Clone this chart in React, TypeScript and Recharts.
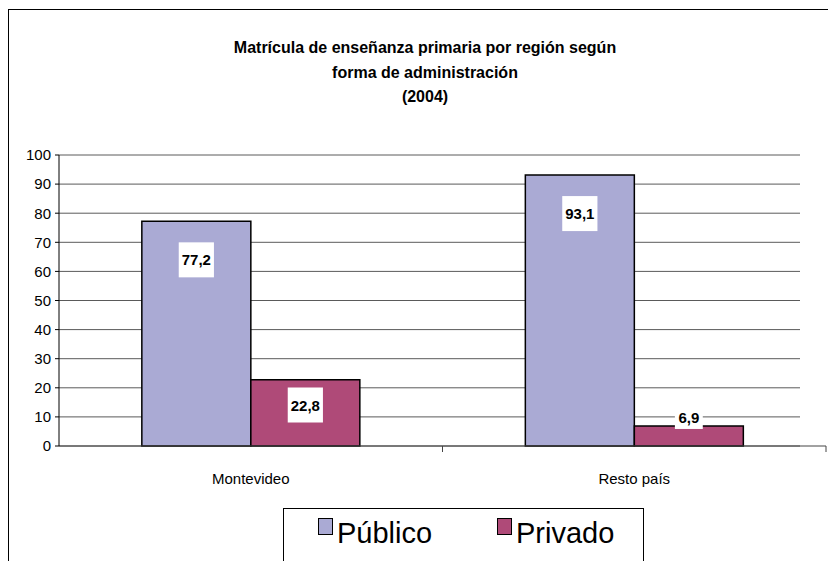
import React from "react";
import {
  BarChart,
  Bar,
  XAxis,
  YAxis,
  CartesianGrid,
  Legend,
  LabelList,
} from "recharts";

const regions = ["Montevideo", "Resto país"];
const publico = [77.2, 93.1];
const privado = [22.8, 6.9];
const yTicks = [0, 10, 20, 30, 40, 50, 60, 70, 80, 90, 100];
const titleLines = [
  "Matrícula de enseñanza primaria por región según",
  "forma de administración",
  "(2004)",
];
const seriesNames = ["Público", "Privado"];
const seriesColors = ["#AAAAD4", "#AF4A78"];

const data = regions.map((r, i) => ({
  region: r,
  publico: publico[i],
  privado: privado[i],
}));

const FONT = "'Liberation Sans', Arial, sans-serif";

const fmt = (v: number) => v.toFixed(1).replace(".", ",");

const ValueLabel = (props: any) => {
  const { x, y, width, height, value } = props;
  const h = Number(height);
  const cx = Number(x) + Number(width) / 2;
  const off = h >= 40 ? Math.min(38.5, h - 41) : h / 2 - 18;
  const cy = Number(y) + off;
  const txt = fmt(Number(value));
  const w = txt.length * 7.3 + 6;
  const bh = h >= 40 ? 35 : 22;
  return (
    <g>
      <rect x={cx - w / 2} y={cy - bh / 2} width={w} height={bh} fill="#fff" />
      <text
        x={cx}
        y={cy}
        textAnchor="middle"
        dominantBaseline="central"
        fontFamily={FONT}
        fontWeight="bold"
        fontSize={15}
        fill="#000"
      >
        {txt}
      </text>
    </g>
  );
};

const CategoryTick = (props: any) => {
  const { x, y, payload } = props;
  const half = Number(payload?.offset ?? 0);
  return (
    <g>
      <line
        x1={x + half}
        y1={y}
        x2={x + half}
        y2={y + 6}
        stroke="#444"
        strokeWidth={1}
      />
      <text
        x={x}
        y={y + 27}
        dy="0.71em"
        textAnchor="middle"
        fontFamily={FONT}
        fontSize={15}
        fill="#000"
      >
        {payload.value}
      </text>
    </g>
  );
};

const GridLine = (p: any) => (
  <line
    key={p.key}
    x1={p.x1}
    y1={p.y1}
    x2={p.x2 - 26}
    y2={p.y2}
    stroke="#5a5a5a"
    strokeWidth={1}
  />
);

const LegendBox = () => (
  <div
    style={{
      width: 361,
      height: 62,
      boxSizing: "border-box",
      border: "1px solid #000",
      background: "#fff",
      position: "relative",
      fontFamily: FONT,
    }}
  >
    {seriesNames.map((n, i) => (
      <div
        key={n}
        style={{
          position: "absolute",
          left: i === 0 ? 34 : 213,
          top: 7,
          display: "flex",
          alignItems: "flex-start",
        }}
      >
        <div
          style={{
            width: 15,
            height: 17,
            marginTop: 2,
            boxSizing: "border-box",
            border: "1px solid #000",
            background: seriesColors[i],
          }}
        />
        <span
          style={{
            fontSize: 29,
            lineHeight: "34px",
            marginLeft: 4,
            color: "#000",
          }}
        >
          {n}
        </span>
      </div>
    ))}
  </div>
);

export default function App() {
  return (
    <div
      style={{
        position: "fixed",
        left: 8,
        top: 9,
        width: 820,
        height: 552,
        boxSizing: "border-box",
        borderLeft: "1px solid #000",
        borderTop: "1px solid #000",
        overflow: "hidden",
        background: "#fff",
      }}
    >
      <div
        style={{
          position: "absolute",
          left: 116,
          top: 26,
          width: 600,
          textAlign: "center",
          fontFamily: FONT,
          fontWeight: "bold",
          fontSize: 16,
          lineHeight: "24.5px",
          color: "#000",
          zIndex: 2,
        }}
      >
        {titleLines.map((t) => (
          <div key={t}>{t}</div>
        ))}
      </div>
      <BarChart
        width={819}
        height={551}
        data={data}
        margin={{ top: 145, right: 2, left: 10, bottom: 75 }}
        barCategoryGap="21.6%"
        barGap={0}
      >
        <CartesianGrid horizontal={GridLine} vertical={false} />
        <XAxis
          dataKey="region"
          height={40}
          axisLine={{ stroke: "#444" }}
          tickLine={false}
          tickSize={0}
          tickMargin={0}
          tick={<CategoryTick />}
          interval={0}
        />
        <YAxis
          domain={[0, 100]}
          ticks={yTicks}
          width={40}
          tickSize={4}
          tickMargin={4}
          axisLine={{ stroke: "#000" }}
          tickLine={{ stroke: "#000" }}
          tick={{ fontFamily: FONT, fontSize: 15, fill: "#000" }}
          interval={0}
        />
        <Legend
          layout="vertical"
          align="center"
          verticalAlign="middle"
          content={<LegendBox />}
          wrapperStyle={{ left: 274, top: 498, width: 361, height: 62 }}
        />
        <Bar
          dataKey="publico"
          name={seriesNames[0]}
          fill={seriesColors[0]}
          stroke="#000"
          strokeWidth={1.5}
          isAnimationActive={false}
        >
          <LabelList dataKey="publico" content={<ValueLabel />} />
        </Bar>
        <Bar
          dataKey="privado"
          name={seriesNames[1]}
          fill={seriesColors[1]}
          stroke="#000"
          strokeWidth={1.5}
          isAnimationActive={false}
        >
          <LabelList dataKey="privado" content={<ValueLabel />} />
        </Bar>
      </BarChart>
    </div>
  );
}
